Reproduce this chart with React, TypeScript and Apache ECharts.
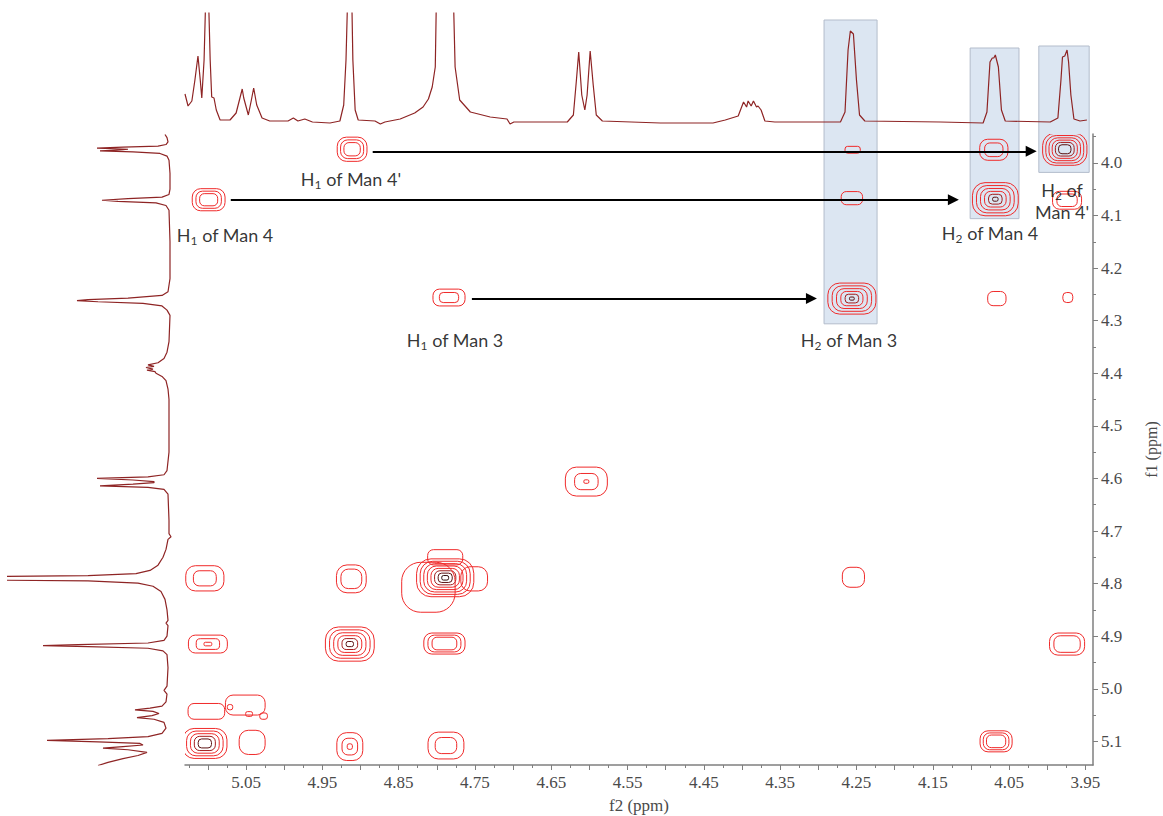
import React, { useEffect, useRef } from "react";
import * as echarts from "echarts";

// ---- axis ranges / ticks (ppm) ----
const X_MIN = 3.94;
const X_MAX = 5.13;
const Y_MIN = 3.945;
const Y_MAX = 5.145;
const xTickLabels = [5.05, 4.95, 4.85, 4.75, 4.65, 4.55, 4.45, 4.35, 4.25, 4.15, 4.05, 3.95];
const xMajorTicks = [5.1, 5.05, 5.0, 4.95, 4.9, 4.85, 4.8, 4.75, 4.7, 4.65, 4.6, 4.55, 4.5, 4.45, 4.4, 4.35, 4.3, 4.25, 4.2, 4.15, 4.1, 4.05, 4.0, 3.95];
const xMinorTicks = [5.125, 5.075, 5.025, 4.975, 4.925, 4.875, 4.825, 4.775, 4.725, 4.675, 4.625, 4.575, 4.525, 4.475, 4.425, 4.375, 4.325, 4.275, 4.225, 4.175, 4.125, 4.075, 4.025, 3.975];
const yTickLabels = [4.0, 4.1, 4.2, 4.3, 4.4, 4.5, 4.6, 4.7, 4.8, 4.9, 5.0, 5.1];
const yMinorTicks = [3.95, 4.05, 4.15, 4.25, 4.35, 4.45, 4.55, 4.65, 4.75, 4.85, 4.95, 5.05];

// ---- 1D projection (f2, top): [ppm, intensity] ----
const topSpectrum = [
  [5.13, 29], [5.126, 17], [5.121, 22], [5.117, 43], [5.113, 67], [5.11, 43], [5.108, 25], [5.105, 63], [5.102, 150], [5.1, 150], [5.097, 63], [5.095, 26], [5.092, 25], [5.089, 13], [5.084, 3], [5.071, 3], [5.063, 10], [5.058, 25], [5.055, 34], [5.053, 25], [5.047, 8], [5.043, 23], [5.04, 35], [5.036, 18], [5.029, 5], [5.019, 2], [4.995, 2], [4.988, 5], [4.982, 2], [4.973, 4], [4.963, 1], [4.94, 0], [4.927, 2], [4.922, 18], [4.919, 63], [4.916, 150], [4.912, 150], [4.91, 63], [4.907, 13], [4.903, 3], [4.881, 2], [4.874, -1], [4.868, 1], [4.848, 4], [4.829, 10], [4.818, 16], [4.811, 24], [4.806, 36], [4.802, 56], [4.8, 150], [4.779, 150], [4.776, 56], [4.77, 23], [4.756, 11], [4.73, 6], [4.708, 4], [4.704, -1], [4.699, 1], [4.629, 1], [4.621, 8], [4.617, 43], [4.614, 71], [4.61, 28], [4.606, 13], [4.603, 28], [4.599, 72], [4.595, 38], [4.591, 8], [4.583, 2], [4.507, 0], [4.438, 0], [4.422, 3], [4.405, 7], [4.398, 21], [4.394, 16], [4.392, 22], [4.388, 17], [4.385, 22], [4.381, 16], [4.379, 17], [4.375, 13], [4.37, 2], [4.357, 1], [4.271, 1], [4.265, 11], [4.261, 73], [4.258, 92], [4.254, 89], [4.25, 43], [4.246, 8], [4.239, 2], [4.14, 1], [4.084, 0], [4.079, 11], [4.075, 61], [4.072, 65], [4.07, 65], [4.068, 68], [4.064, 56], [4.06, 13], [4.055, 2], [3.996, 1], [3.986, 5], [3.982, 43], [3.98, 66], [3.977, 67], [3.974, 73], [3.972, 61], [3.969, 28], [3.965, 4], [3.957, 2], [3.948, 3],
];

// ---- 1D projection (f1, left): [ppm, intensity] ----
const leftSpectrum = [
  [3.946, 3], [3.952, 1], [3.96, 0], [3.965, 2], [3.968, 10], [3.97, 45], [3.972, 71], [3.974, 40], [3.975, 45], [3.977, 68], [3.979, 35], [3.982, 8], [3.987, 1], [3.995, -1], [4.02, -2], [4.05, -2], [4.06, -1], [4.065, 6], [4.068, 40], [4.071, 66], [4.073, 50], [4.076, 12], [4.081, 2], [4.09, -1], [4.15, -2], [4.22, -2], [4.245, 0], [4.252, 6], [4.257, 40], [4.26, 80], [4.262, 91], [4.264, 70], [4.267, 25], [4.272, 6], [4.28, 1], [4.29, -2], [4.34, -1], [4.36, 1], [4.372, 4], [4.38, 10], [4.384, 20], [4.387, 14], [4.389, 22], [4.392, 15], [4.394, 21], [4.397, 13], [4.4, 12], [4.406, 6], [4.414, 2], [4.43, 0], [4.45, -1], [4.55, -1], [4.585, 1], [4.593, 4], [4.597, 20], [4.6, 71], [4.603, 35], [4.606, 14], [4.608, 14], [4.611, 35], [4.614, 68], [4.617, 20], [4.621, 4], [4.63, 0], [4.68, -1], [4.705, -1], [4.711, -3], [4.716, 0], [4.735, 2], [4.75, 5], [4.765, 10], [4.775, 18], [4.781, 32], [4.785, 80], [4.787, 200], [4.793, 200], [4.795, 80], [4.799, 30], [4.805, 15], [4.815, 7], [4.83, 3], [4.85, 1], [4.87, 0], [4.875, 2], [4.88, 0], [4.9, 1], [4.908, 4], [4.913, 20], [4.916, 90], [4.918, 125], [4.92, 80], [4.923, 20], [4.928, 5], [4.935, 1], [4.96, 0], [4.995, 1], [5.003, 4], [5.01, 1], [5.025, 2], [5.033, 6], [5.037, 18], [5.04, 33], [5.043, 15], [5.047, 9], [5.051, 16], [5.055, 31], [5.058, 14], [5.064, 4], [5.075, 2], [5.085, 6], [5.091, 20], [5.095, 60], [5.098, 121], [5.101, 70], [5.104, 28], [5.107, 25], [5.11, 45], [5.113, 65], [5.116, 40], [5.121, 21], [5.127, 30], [5.133, 45], [5.14, 60], [5.146, 70],
];

// ---- 2D cross peaks: [f2, f1, width(ppm), height(ppm), levels, innermost scale, dark levels] ----
const crossPeaks = [
  [4.911, 3.974, 0.039, 0.046, 3, 0.55, 0],
  [5.099, 4.07, 0.043, 0.042, 3, 0.55, 0],
  [4.784, 4.256, 0.042, 0.032, 2, 0.6, 0],
  [4.255, 3.975, 0.02, 0.013, 1, 1, 0],
  [4.256, 4.067, 0.028, 0.025, 1, 1, 0],
  [4.256, 4.258, 0.063, 0.059, 6, 0.1, 2],
  [4.07, 3.975, 0.037, 0.04, 2, 0.65, 0],
  [4.068, 4.069, 0.06, 0.063, 6, 0.12, 2],
  [3.977, 3.974, 0.058, 0.061, 6, 0.28, 2],
  [3.974, 4.071, 0.038, 0.034, 2, 0.7, 0],
  [4.066, 4.258, 0.024, 0.027, 1, 1, 0],
  [3.973, 4.256, 0.013, 0.019, 1, 1, 0],
  [4.604, 4.606, 0.055, 0.055, 3, 0.12, 0],
  [5.104, 4.79, 0.05, 0.048, 2, 0.6, 0],
  [4.912, 4.791, 0.039, 0.053, 2, 0.7, 0],
  [4.789, 4.789, 0.075, 0.072, 8, 0.12, 3],
  [4.811, 4.807, 0.07, 0.095, 1, 1, 0],
  [4.789, 4.75, 0.046, 0.029, 1, 1, 0],
  [4.751, 4.791, 0.035, 0.046, 1, 1, 0],
  [5.1, 4.915, 0.051, 0.034, 3, 0.2, 0],
  [4.914, 4.915, 0.064, 0.065, 6, 0.15, 2],
  [4.79, 4.914, 0.054, 0.04, 3, 0.6, 0],
  [5.104, 5.104, 0.058, 0.057, 5, 0.3, 2],
  [5.051, 5.031, 0.052, 0.038, 1, 1, 0],
  [5.102, 5.043, 0.048, 0.03, 1, 1, 0],
  [5.071, 5.035, 0.007, 0.01, 1, 1, 0],
  [5.046, 5.048, 0.009, 0.009, 1, 1, 0],
  [5.027, 5.052, 0.01, 0.012, 1, 1, 0],
  [5.042, 5.102, 0.034, 0.046, 1, 1, 0],
  [4.914, 5.11, 0.034, 0.053, 3, 0.2, 0],
  [4.788, 5.108, 0.047, 0.051, 2, 0.6, 0],
  [4.254, 4.788, 0.029, 0.038, 1, 1, 0],
  [3.974, 4.915, 0.046, 0.042, 2, 0.75, 0],
  [4.067, 5.1, 0.042, 0.04, 3, 0.6, 0],
];

// ---- arrows: [f2 start, f2 end, f1] ----
const arrows = [
  [4.884, 4.021, 3.978],
  [5.07, 4.123, 4.07],
  [4.754, 4.309, 4.258],
];

// ---- labels: [f2, f1, prefix, subscript, rest] ----
const annotations = [
  [4.9124, 4.0306, "H", "1", " of Man 4'"],
  [5.0775, 4.1371, "H", "1", " of Man 4"],
  [4.7761, 4.3368, "H", "1", " of Man 3"],
  [4.2597, 4.3368, "H", "2", " of Man 3"],
  [4.0749, 4.1333, "H", "2", " of Man 4"],
  [3.9805, 4.0725, "H", "2", " of\nMan 4'"],
];

// ---- highlighted columns: [f2 left, f2 right, f1 bottom, top (projection intensity)] ----
const boxes = [
  [4.2925, 4.223, 4.306, 103],
  [4.101, 4.037, 4.106, 75],
  [4.011, 3.945, 4.018, 77],
];

const SPEC_COLOR = "#8e2424";
const AXIS_COLOR = "#7f7f7f";
const TICK_FONT = "Liberation Serif, serif";

function ringColor(k: number, n: number, dark: number) {
  if (k >= n - dark) {
    const d = k - (n - dark);
    return ["#a31c1c", "#5a1212", "#2a0a0a"][d] || "#2a0a0a";
  }
  return "#f02a2a";
}

export default function App() {
  const ref = useRef<HTMLDivElement>(null);

  useEffect(() => {
    if (!ref.current) return;
    const chart = echarts.init(ref.current, null, { renderer: "svg" });

    const option: any = {
      animation: false,
      backgroundColor: "#ffffff",
      grid: [
        { left: 185, top: 134, width: 908, height: 631, outerBoundsMode: "none" },
        { left: 185, top: 13, width: 908, height: 112, outerBoundsMode: "none" },
        { left: 8, top: 134, width: 162, height: 631, outerBoundsMode: "none" },
      ],
      xAxis: [
        {
          gridIndex: 0, type: "value", min: X_MIN, max: X_MAX, inverse: true, position: "bottom",
          axisLine: { show: true, lineStyle: { color: AXIS_COLOR, width: 1.5 } },
          axisTick: { show: true, customValues: xMajorTicks, length: 5, lineStyle: { color: AXIS_COLOR, width: 1 } },
          axisLabel: {
            customValues: xTickLabels, formatter: (v: number) => v.toFixed(2),
            fontFamily: TICK_FONT, fontSize: 17, color: "#4a4a4a", margin: 9,
          },
          splitLine: { show: false },
          name: "f2 (ppm)", nameLocation: "middle", nameGap: 32,
          nameTextStyle: { fontFamily: TICK_FONT, fontSize: 17, color: "#4a4a4a" },
        },
        { gridIndex: 1, type: "value", min: X_MIN, max: X_MAX, inverse: true, show: false },
        { gridIndex: 2, type: "value", min: -2, max: 160, inverse: true, show: false },
        {
          gridIndex: 0, type: "value", min: X_MIN, max: X_MAX, inverse: true, position: "bottom",
          axisLine: { show: false },
          axisTick: { show: true, customValues: xMinorTicks, length: 3, lineStyle: { color: AXIS_COLOR, width: 1 } },
          axisLabel: { show: false },
          splitLine: { show: false },
        },
      ],
      yAxis: [
        {
          gridIndex: 0, type: "value", min: Y_MIN, max: Y_MAX, inverse: true, position: "right",
          axisLine: { show: true, lineStyle: { color: AXIS_COLOR, width: 1.5 } },
          axisTick: { show: true, customValues: yTickLabels, length: 5, lineStyle: { color: AXIS_COLOR, width: 1 } },
          axisLabel: {
            customValues: yTickLabels, formatter: (v: number) => v.toFixed(1),
            fontFamily: TICK_FONT, fontSize: 17, color: "#4a4a4a", margin: 8,
          },
          splitLine: { show: false },
          name: "f1 (ppm)", nameLocation: "middle", nameRotate: 90, nameGap: 50,
          nameTextStyle: { fontFamily: TICK_FONT, fontSize: 16, color: "#4a4a4a" },
        },
        { gridIndex: 1, type: "value", min: -2, max: 110, show: false },
        { gridIndex: 2, type: "value", min: Y_MIN, max: Y_MAX, inverse: true, show: false },
        {
          gridIndex: 0, type: "value", min: Y_MIN, max: Y_MAX, inverse: true, position: "right",
          axisLine: { show: false },
          axisTick: { show: true, customValues: yMinorTicks, length: 3, lineStyle: { color: AXIS_COLOR, width: 1 } },
          axisLabel: { show: false },
          splitLine: { show: false },
        },
      ],
      series: [
        {
          type: "line", xAxisIndex: 1, yAxisIndex: 1, data: topSpectrum,
          showSymbol: false, symbol: "none", clip: true, z: 3,
          lineStyle: { color: SPEC_COLOR, width: 1.2 },
        },
        {
          type: "line", xAxisIndex: 2, yAxisIndex: 2,
          data: leftSpectrum.map(([p, i]) => [i, p]),
          showSymbol: false, symbol: "none", clip: true, z: 3,
          lineStyle: { color: SPEC_COLOR, width: 1.2 },
        },
        {
          type: "custom", xAxisIndex: 0, yAxisIndex: 0, data: crossPeaks, clip: true, z: 4,
          encode: { x: 0, y: 1 },
          renderItem: (params: any, api: any) => {
            const f2 = api.value(0), f1 = api.value(1);
            const w = api.value(2), h = api.value(3);
            const n = api.value(4), minS = api.value(5), dark = api.value(6);
            const c = api.coord([f2, f1]);
            const s = api.size([w, h], [f2, f1]);
            const children: any[] = [];
            for (let k = 0; k < n; k++) {
              const sc = n === 1 ? 1 : 1 - (k * (1 - minS)) / (n - 1);
              const rw = Math.abs(s[0]) * sc;
              const rh = Math.abs(s[1]) * sc;
              const r = Math.min(rw, rh) * 0.38;
              children.push({
                type: "rect",
                shape: { x: c[0] - rw / 2, y: c[1] - rh / 2, width: rw, height: rh, r },
                style: { fill: "none", stroke: ringColor(k, n, dark), lineWidth: 1 },
              });
            }
            return { type: "group", children };
          },
        },
        {
          type: "lines", coordinateSystem: "cartesian2d", xAxisIndex: 0, yAxisIndex: 0, z: 5,
          symbol: ["none", "triangle"], symbolSize: [9, 11],
          lineStyle: { color: "#000", width: 2, opacity: 1 },
          data: arrows.map(([a, b, f1]) => ({ coords: [[a, f1], [b, f1]] })),
        },
        {
          type: "scatter", xAxisIndex: 0, yAxisIndex: 0, z: 6, symbolSize: 0, clip: false,
          itemStyle: { color: "transparent" },
          data: annotations.map((a) => [a[0], a[1]]),
          label: {
            show: true, position: "inside",
            formatter: (p: any) => {
              const a = annotations[p.dataIndex];
              return `${a[2]}{s|${a[3]}}${a[4]}`;
            },
            color: "#000", fontFamily: "Lato, sans-serif", fontSize: 18, lineHeight: 22, align: "center",
            rich: { s: { fontSize: 12, lineHeight: 10, verticalAlign: "bottom", fontFamily: "Lato, sans-serif", color: "#000" } },
          },
        },
      ],
    };

    chart.setOption(option);

    const rects = boxes.map(([a, b, f1b, iTop]) => {
      const p1 = chart.convertToPixel({ xAxisIndex: 0, yAxisIndex: 0 } as any, [a, f1b]) as number[];
      const p2 = chart.convertToPixel({ xAxisIndex: 0, yAxisIndex: 0 } as any, [b, f1b]) as number[];
      const pt = chart.convertToPixel({ xAxisIndex: 1, yAxisIndex: 1 } as any, [a, iTop]) as number[];
      const x = Math.min(p1[0], p2[0]);
      const w = Math.abs(p2[0] - p1[0]);
      return {
        type: "rect", z: 1, silent: true,
        shape: { x, y: pt[1], width: w, height: p1[1] - pt[1] },
        style: { fill: "#dce6f2", stroke: "#b3bccb", lineWidth: 1 },
      };
    });
    chart.setOption({ graphic: { elements: rects } });

    return () => chart.dispose();
  }, []);

  return (
    <div
      ref={ref}
      style={{ position: "fixed", left: 0, top: 0, width: 1163, height: 816, background: "#fff" }}
    />
  );
}
